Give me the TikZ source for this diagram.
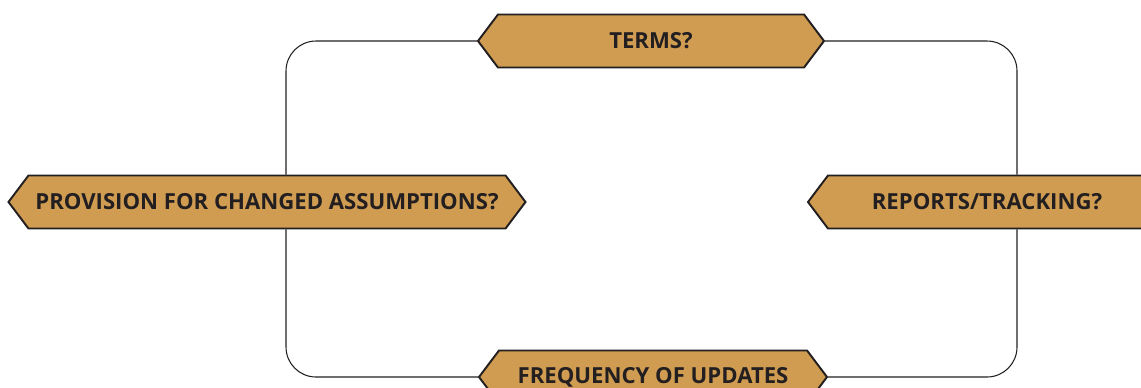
\documentclass[tikz,border=0pt]{standalone}
\usepackage{fontspec}
\setmainfont{Open Sans}
\usetikzlibrary{shapes.symbols}
\definecolor{ochre}{RGB}{207,156,82}
\definecolor{ink}{RGB}{35,31,32}
\tikzset{
  question/.style={signal, signal to=west and east, signal pointer angle=106,
    fill=ochre, draw=ink, line width=1.1pt, text=ink, minimum height=53*0.02cm,
    inner xsep=0pt, font=\fontsize{12.6}{15}\selectfont\bfseries},
  loopline/.style={draw=ink, line width=0.6pt, rounded corners=0.6cm}
}
\begin{document}
\begin{tikzpicture}[x=0.02cm,y=0.02cm]
\useasboundingbox (0,0) rectangle (1141,387);
\clip (0,0) rectangle (1141,387);
% corners of the loop
\coordinate (tl) at (286,346);
\coordinate (br) at (1017,10);
% the four questions
\node[question,minimum width=346*0.02cm] (terms) at (651,346) {TERMS?};
\node[question,minimum width=517*0.02cm] (prov) at (267,185) {PROVISION FOR CHANGED ASSUMPTIONS?};
\node[question,minimum width=358*0.02cm] (reports) at (987,185) {REPORTS/TRACKING?};
\node[question,minimum width=348*0.02cm] (updates) at (653,10) {FREQUENCY OF UPDATES};
% the loop
\draw[loopline] (terms.west) -| (prov.north -| tl);
\draw[loopline] (prov.south -| tl) |- (updates.west);
\draw[loopline] (updates.east) -| (reports.south -| br);
\draw[loopline] (reports.north -| br) |- (terms.east);
\end{tikzpicture}
\end{document}
